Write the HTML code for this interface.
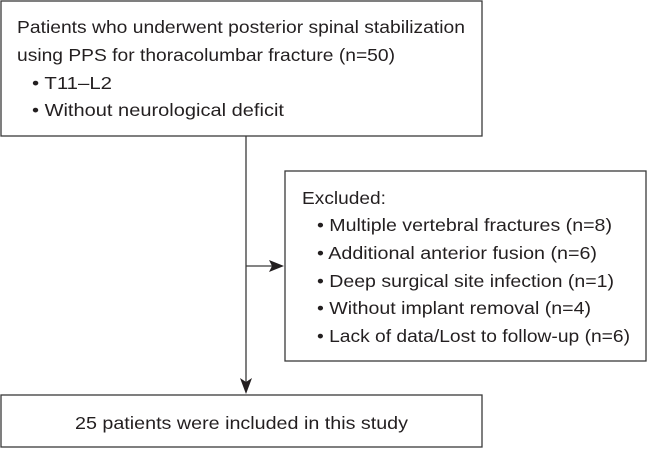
<!DOCTYPE html>
<html><head><meta charset="utf-8"><style>
html,body{margin:0;padding:0;background:#fff;}
svg{display:block;}
text{font-family:"Liberation Sans",Arial,sans-serif;font-size:17.5px;fill:#231f20;}
</style></head><body>
<svg width="648" height="449" viewBox="0 0 648 449" xmlns="http://www.w3.org/2000/svg">
<g fill="none" stroke="#3a3a3a" stroke-width="1.3">
<rect x="1" y="1" width="481" height="135"/>
<rect x="285" y="171" width="361" height="190"/>
<rect x="1" y="395" width="481" height="52"/>
<line x1="246" y1="136" x2="246" y2="383"/>
<line x1="246" y1="266" x2="273" y2="266"/>
</g>
<polygon points="284,266 269,260 272,266 269,272" fill="#231f20"/>
<polygon points="246,394 240,378 246,382 252,378" fill="#231f20"/>
<text x="17" y="33" textLength="448" lengthAdjust="spacingAndGlyphs">Patients who underwent posterior spinal stabilization</text>
<text x="17" y="61" textLength="378" lengthAdjust="spacingAndGlyphs">using PPS for thoracolumbar fracture (n=50)</text>
<text x="32" y="89" textLength="80" lengthAdjust="spacingAndGlyphs">• T11–L2</text>
<text x="32" y="116" textLength="252" lengthAdjust="spacingAndGlyphs">• Without neurological deficit</text>
<text x="302" y="204" textLength="84" lengthAdjust="spacingAndGlyphs">Excluded:</text>
<text x="317" y="231" textLength="295" lengthAdjust="spacingAndGlyphs">• Multiple vertebral fractures (n=8)</text>
<text x="317" y="259" textLength="280" lengthAdjust="spacingAndGlyphs">• Additional anterior fusion (n=6)</text>
<text x="317" y="287" textLength="297" lengthAdjust="spacingAndGlyphs">• Deep surgical site infection (n=1)</text>
<text x="317" y="314" textLength="274" lengthAdjust="spacingAndGlyphs">• Without implant removal (n=4)</text>
<text x="317" y="342" textLength="313" lengthAdjust="spacingAndGlyphs">• Lack of data/Lost to follow-up (n=6)</text>
<text x="75" y="429" textLength="333" lengthAdjust="spacingAndGlyphs">25 patients were included in this study</text>
</svg>
</body></html>
